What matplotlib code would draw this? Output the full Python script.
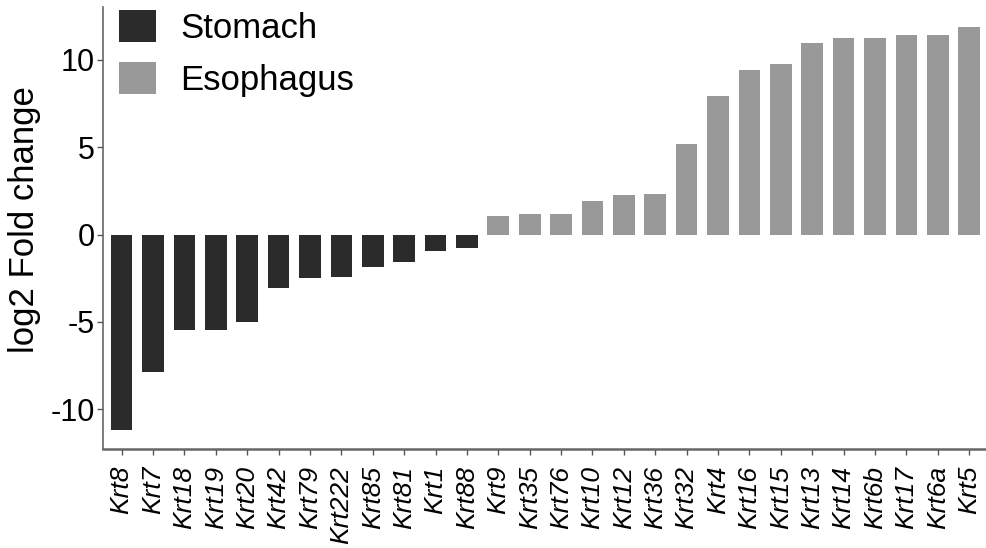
import matplotlib.pyplot as plt
import numpy as np

plt.rcParams['font.family'] = ['Liberation Sans', 'DejaVu Sans']

# genes ordered by fold change
stomach_genes = ['Krt8', 'Krt7', 'Krt18', 'Krt19', 'Krt20', 'Krt42', 'Krt79',
                 'Krt222', 'Krt85', 'Krt81', 'Krt1', 'Krt88']
stomach_fc = [-11.17, -7.89, -5.44, -5.44, -5.01, -3.09, -2.49,
              -2.43, -1.86, -1.59, -0.92, -0.80]

esophagus_genes = ['Krt9', 'Krt35', 'Krt76', 'Krt10', 'Krt12', 'Krt36', 'Krt32',
                   'Krt4', 'Krt16', 'Krt15', 'Krt13', 'Krt14', 'Krt6b', 'Krt17',
                   'Krt6a', 'Krt5']
esophagus_fc = [1.05, 1.16, 1.16, 1.91, 2.27, 2.33, 5.21,
                7.91, 9.40, 9.76, 10.96, 11.25, 11.25, 11.42,
                11.42, 11.90]

genes = stomach_genes + esophagus_genes
x_st = np.arange(len(stomach_genes))
x_es = np.arange(len(stomach_genes), len(genes))

fig = plt.figure(figsize=(9.87, 5.48), dpi=100)
ax = fig.add_axes([0.1045, 0.180, 0.8955, 0.808])

b1 = ax.bar(x_st, stomach_fc, width=0.69, color='#2b2b2b', label='Stomach')
b2 = ax.bar(x_es, esophagus_fc, width=0.69, color='#999999', label='Esophagus')

ax.set_xlim(-0.59, len(genes) - 0.43)
ax.set_ylim(-12.3, 13.05)
ax.set_yticks([-10, -5, 0, 5, 10])
ax.set_yticklabels(['-10', '-5', '0', '5', '10'])
ax.set_xticks(np.arange(len(genes)))
ax.set_xticklabels(genes, rotation=90, style='italic', fontsize=19)
ax.tick_params(axis='y', labelsize=22, length=4, width=1, color='#555555', pad=2)
ax.tick_params(axis='x', length=4, width=1, color='#555555', pad=8)

for side in ['top', 'right']:
    ax.spines[side].set_visible(False)
ax.spines['left'].set_color('#666666')
ax.spines['bottom'].set_color('#666666')
ax.spines['left'].set_linewidth(1.2)
ax.spines['bottom'].set_linewidth(1.8)

ax.set_ylabel('log2 Fold change', fontsize=25)
ax.yaxis.set_label_coords(-0.07, 0.518)

ax.legend(handles=[b1, b2], loc='upper left', bbox_to_anchor=(-0.006, 1.04),
          frameon=False, fontsize=25, handlelength=1.07, handleheight=1.04,
          handletextpad=0.7, labelspacing=0.5, borderaxespad=0.2)

fig.savefig('out.png', dpi=100)
